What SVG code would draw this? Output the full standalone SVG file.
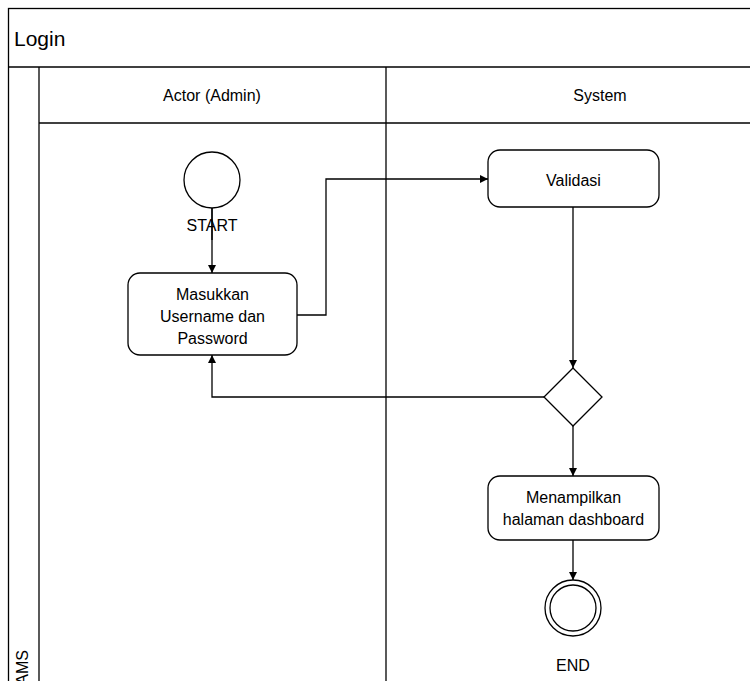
<svg xmlns="http://www.w3.org/2000/svg" width="750" height="681" viewBox="0 0 750 681">
<style>
.ln{fill:none;stroke:#000;stroke-width:1.3}
.nd{fill:#fff;stroke:#000;stroke-width:1.3}
.t{font-family:"Liberation Sans",Arial,sans-serif;font-size:16px;fill:#000;text-anchor:middle;dominant-baseline:central}
</style>
<defs>
<marker id="ar" viewBox="0 0 10 10" refX="10" refY="5" markerWidth="8" markerHeight="8" markerUnits="userSpaceOnUse" orient="auto">
<path d="M0,0 L10,5 L0,10 z" fill="#000"/>
</marker>
</defs>
<rect width="750" height="681" fill="#fff"/>
<g id="frame">
<rect class="ln" x="8.5" y="8.5" width="760" height="700"/>
<line class="ln" x1="8.5" y1="67" x2="750" y2="67"/>
<text x="14" y="38" style="font-family:'Liberation Sans',Arial,sans-serif;font-size:21px;dominant-baseline:central">Login</text>
<line class="ln" x1="39" y1="67" x2="39" y2="681"/>
<text transform="translate(22,650) rotate(-90)" style="font-family:'Liberation Sans',Arial,sans-serif;font-size:16px;text-anchor:end;dominant-baseline:central">AMS</text>
</g>
<g id="lane-actor">
<line class="ln" x1="39" y1="123" x2="386" y2="123"/>
<line class="ln" x1="386" y1="67" x2="386" y2="681"/>
<text class="t" x="212" y="95">Actor (Admin)</text>
</g>
<g id="lane-system">
<line class="ln" x1="386" y1="123" x2="750" y2="123"/>
<text class="t" x="600" y="95">System</text>
</g>
<g id="connectors">
<line class="ln" x1="212" y1="208" x2="212" y2="273" marker-end="url(#ar)"/>
<polyline class="ln" points="297,315 326,315 326,179 488,179" marker-end="url(#ar)"/>
<line class="ln" x1="573" y1="207" x2="573" y2="368" marker-end="url(#ar)"/>
<polyline class="ln" points="544,397 212,397 212,355" marker-end="url(#ar)"/>
<line class="ln" x1="573" y1="426" x2="573" y2="476" marker-end="url(#ar)"/>
<line class="ln" x1="573" y1="540" x2="573" y2="580" marker-end="url(#ar)"/>
</g>
<g id="start">
<circle class="nd" cx="212" cy="180" r="28"/>
<line class="ln" x1="212" y1="208" x2="212" y2="240"/>
<text class="t" x="212" y="225">START</text>
</g>
<g id="masukkan">
<rect class="nd" x="128" y="273" width="169" height="82" rx="12"/>
<text class="t" x="212.5" y="294">Masukkan</text>
<text class="t" x="212.5" y="316">Username dan</text>
<text class="t" x="212.5" y="338">Password</text>
</g>
<g id="validasi">
<rect class="nd" x="488" y="150" width="171" height="57" rx="12"/>
<text class="t" x="573.5" y="180">Validasi</text>
</g>
<g id="decision">
<polygon class="nd" points="573,368 602,397 573,426 544,397"/>
</g>
<g id="menampilkan">
<rect class="nd" x="488" y="476" width="171" height="64" rx="12"/>
<text class="t" x="573.5" y="497">Menampilkan</text>
<text class="t" x="573.5" y="519">halaman dashboard</text>
</g>
<g id="end">
<circle class="nd" cx="573" cy="608" r="28"/>
<circle class="nd" cx="573" cy="608" r="23"/>
<text class="t" x="573" y="665">END</text>
</g>
</svg>
